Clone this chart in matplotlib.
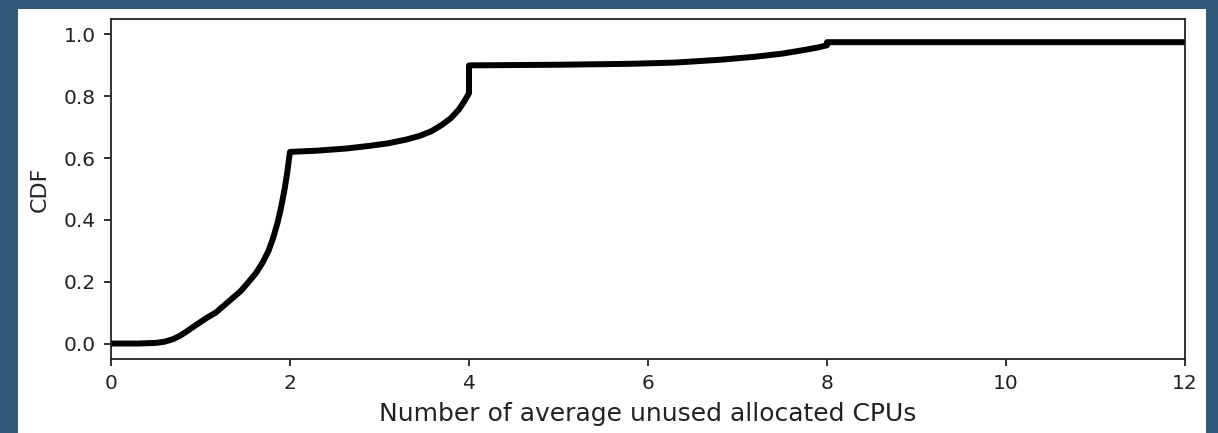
import matplotlib
matplotlib.use("Agg")
import matplotlib.pyplot as plt
from matplotlib.patches import Rectangle

# values
cpus = [0.0, 0.3, 0.5, 0.6, 0.7, 0.77, 0.85, 0.95, 1.08, 1.17, 1.25, 1.35, 1.45, 1.54,
        1.62, 1.7, 1.76, 1.81, 1.86, 1.9, 1.94, 1.97, 1.99, 2.0, 2.0, 2.3, 2.63, 2.9,
        3.1, 3.3, 3.45, 3.58, 3.7, 3.8, 3.88, 3.94, 3.98, 4.0, 4.0, 5.0, 5.8, 6.3,
        6.8, 7.2, 7.5, 7.75, 7.9, 8.0, 8.0, 12.0]
cdf = [0.0, 0.0, 0.002, 0.006, 0.015, 0.025, 0.04, 0.06, 0.085, 0.1, 0.12, 0.145, 0.17, 0.2,
       0.228, 0.265, 0.3, 0.34, 0.39, 0.44, 0.5, 0.555, 0.6, 0.62, 0.62, 0.624, 0.631, 0.64,
       0.648, 0.66, 0.672, 0.687, 0.708, 0.73, 0.755, 0.78, 0.8, 0.81, 0.9, 0.902, 0.905, 0.909,
       0.918, 0.928, 0.938, 0.95, 0.958, 0.965, 0.975, 0.975]

fig = plt.figure(figsize=(12.18, 4.33), dpi=100, facecolor="#305a77")
# white card behind the chart
card = Rectangle((18 / 1218, 0), (1206 - 18) / 1218, 1 - 9 / 433,
                 transform=fig.transFigure, facecolor="white", edgecolor="none", zorder=-10)
fig.add_artist(card)

ax = fig.add_axes([111 / 1218, 1 - 359 / 433, (1185 - 111) / 1218, (359 - 19) / 433])
ax.plot(cpus, cdf, color="black", linewidth=4.3, solid_joinstyle="round")

ax.set_xlim(0, 12)
ax.set_ylim(-0.05, 1.05)
ax.set_xticks([0, 2, 4, 6, 8, 10, 12])
ax.set_yticks([0.0, 0.2, 0.4, 0.6, 0.8, 1.0])
ax.tick_params(labelsize=14.5, width=1.3, length=5, pad=6, colors="#222222")
for s in ax.spines.values():
    s.set_linewidth(1.3)
    s.set_color("#222222")
ax.set_xlabel("Number of average unused allocated CPUs", fontsize=18, color="#222222", labelpad=6)
ax.set_ylabel("CDF", fontsize=16, color="#222222", labelpad=10)

fig.savefig("out.png", dpi=100, facecolor=fig.get_facecolor())
